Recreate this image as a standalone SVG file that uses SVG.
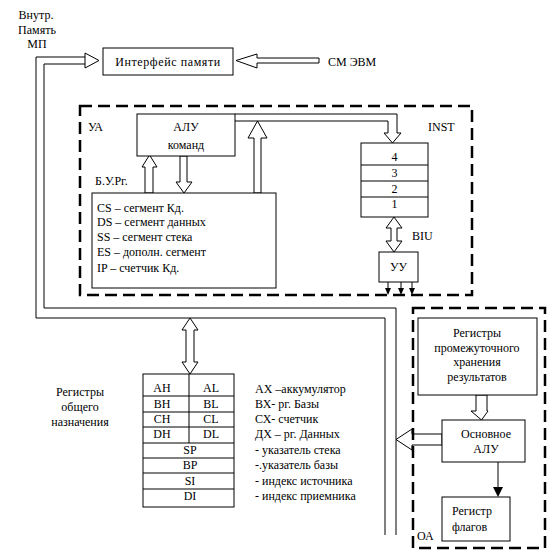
<svg xmlns="http://www.w3.org/2000/svg" width="547" height="553" viewBox="0 0 547 553">
<style>
text{font-family:"Liberation Serif","Times New Roman",serif;font-size:12px;fill:#000}
.m{text-anchor:middle}
.box{fill:#fff;stroke:#000;stroke-width:1}
.ln{fill:none;stroke:#000;stroke-width:1}
.arr{fill:#fff;stroke:#000;stroke-width:1}
.dash{fill:none;stroke:#000;stroke-width:2.5;stroke-dasharray:12 6}
</style>
<rect width="547" height="553" fill="#fff"/>

<g id="connectors">
  <!-- system bus -->
  <polyline class="ln" points="85,57 36,57 36,318 385,318 385,535"/>
  <polyline class="ln" points="85,64 44,64 44,308 396,308 396,535"/>
  <polygon class="arr" points="85,57 85,53 99,60.5 85,68 85,64"/>
  <!-- CM EVM arrow -->
  <polygon class="arr" points="319,58 257,58 257,54 236,60.5 257,68 257,63 319,63"/>
  <!-- ALU -> INST channel -->
  <path class="arr" d="M235,114 H397 V133 H401 L392.5,143 L384,133 H388 V121 H235"/>
  <!-- BURg up to channel -->
  <polygon class="arr" points="254,193 254,138 248,138 257.5,121 267,138 261,138 261,193"/>
  <!-- BURg up to ALU -->
  <polygon class="arr" points="145,193 145,167 142,167 149.5,155 157,167 153,167 153,193"/>
  <!-- ALU down to BURg -->
  <polygon class="arr" points="180,156 180,182 176,182 184,193 192,182 187,182 187,156"/>
  <!-- BIU double arrow -->
  <polygon class="arr" points="394,217 386,228 391,228 391,241 386,241 394,252 402,241 397,241 397,228 402,228"/>
  <!-- UU outputs -->
  <g stroke="#000" stroke-width="1">
    <line x1="388" y1="282" x2="388" y2="290"/>
    <line x1="401" y1="282" x2="401" y2="290"/>
    <line x1="412" y1="282" x2="412" y2="290"/>
  </g>
  <polygon points="385,288 391,288 388,295"/>
  <polygon points="398,288 404,288 401,295"/>
  <polygon points="409,288 415,288 412,295"/>
  <!-- bus to general registers -->
  <polygon class="arr" points="190,318 182,330 186,330 186,362 182,362 190,374 198,362 194,362 194,330 198,330"/>
  <!-- intermediate regs to main ALU -->
  <polygon class="arr" points="476,395 476,411 471,411 481.5,420 488,411 487,411 487,395"/>
  <!-- main ALU to bus -->
  <polygon class="arr" points="442,434 412,434 412,429 396,439.5 412,450 412,445 442,445"/>
  <!-- main ALU to flags -->
  <line x1="498" y1="462" x2="498" y2="489" stroke="#000" stroke-width="1"/>
  <polygon points="493,487 503,487 498,497"/>
</g>

<g id="ua-frame">
  <rect class="dash" x="80" y="106" width="392" height="189"/>
  <text x="88" y="131">УА</text>
  <text x="428" y="131">INST</text>
  <text x="95" y="185">Б.У.Рг.</text>
  <text x="412" y="240">BIU</text>
</g>

<g id="oa-frame">
  <rect class="dash" x="413" y="308" width="132" height="240"/>
  <text x="417" y="540">ОА</text>
</g>

<g id="labels-top">
  <text class="m" x="36" y="19">Внутр.</text>
  <text class="m" x="37" y="34">Память</text>
  <text class="m" x="37" y="48">МП</text>
  <text x="328" y="66">СМ ЭВМ</text>
</g>

<g id="mem-interface">
  <rect class="box" x="103" y="48" width="130" height="27"/>
  <text class="m" x="168" y="66" style="letter-spacing:0.6px">Интерфейс памяти</text>
</g>

<g id="alu-cmd">
  <rect class="box" x="137" y="114" width="98" height="42"/>
  <text class="m" x="186" y="131">АЛУ</text>
  <text class="m" x="186" y="149">команд</text>
</g>

<g id="seg-regs">
  <rect class="box" x="92" y="193" width="184" height="95"/>
  <text x="97" y="212">CS – сегмент Кд.</text>
  <text x="97" y="226">DS – сегмент данных</text>
  <text x="97" y="241">SS – сегмент стека</text>
  <text x="97" y="256">ES – дополн. сегмент</text>
  <text x="97" y="272">IP – счетчик Кд.</text>
</g>

<g id="inst-queue">
  <rect class="box" x="361" y="143" width="67" height="74"/>
  <line class="ln" x1="361" y1="165" x2="428" y2="165"/>
  <line class="ln" x1="361" y1="181" x2="428" y2="181"/>
  <line class="ln" x1="361" y1="197" x2="428" y2="197"/>
  <text class="m" x="394.5" y="161">4</text>
  <text class="m" x="394.5" y="177">3</text>
  <text class="m" x="394.5" y="193">2</text>
  <text class="m" x="394.5" y="208">1</text>
</g>

<g id="uu">
  <rect class="box" x="379" y="252" width="39" height="30"/>
  <text class="m" x="398.5" y="271">УУ</text>
</g>

<g id="gp-regs">
  <rect class="box" x="143" y="374" width="91" height="133"/>
  <g class="ln">
    <line x1="143" y1="396" x2="234" y2="396"/>
    <line x1="143" y1="412" x2="234" y2="412"/>
    <line x1="143" y1="427" x2="234" y2="427"/>
    <line x1="143" y1="443" x2="234" y2="443"/>
    <line x1="143" y1="458" x2="234" y2="458"/>
    <line x1="143" y1="473" x2="234" y2="473"/>
    <line x1="143" y1="489" x2="234" y2="489"/>
    <line x1="189" y1="374" x2="189" y2="443"/>
  </g>
  <text class="m" x="162" y="392">AH</text>
  <text class="m" x="211" y="392">AL</text>
  <text class="m" x="162" y="408">BH</text>
  <text class="m" x="211" y="408">BL</text>
  <text class="m" x="162" y="423">CH</text>
  <text class="m" x="211" y="423">CL</text>
  <text class="m" x="162" y="438">DH</text>
  <text class="m" x="211" y="438">DL</text>
  <text class="m" x="190" y="454">SP</text>
  <text class="m" x="190" y="469">BP</text>
  <text class="m" x="190" y="485">SI</text>
  <text class="m" x="190" y="500">DI</text>
</g>

<g id="gp-label">
  <text class="m" x="80" y="396">Регистры</text>
  <text class="m" x="80" y="411">общего</text>
  <text class="m" x="80" y="426">назначения</text>
</g>

<g id="gp-legend">
  <text x="255" y="393">АХ –аккумулятор</text>
  <text x="255" y="408">ВХ- рг. Базы</text>
  <text x="255" y="423">СХ- счетчик</text>
  <text x="255" y="438">ДХ – рг. Данных</text>
  <text x="255" y="454">- указатель стека</text>
  <text x="255" y="469">-.указатель базы</text>
  <text x="255" y="485">- индекс источника</text>
  <text x="255" y="500">- индекс приемника</text>
</g>

<g id="temp-regs">
  <rect class="box" x="418" y="318" width="119" height="77"/>
  <text class="m" x="477" y="337">Регистры</text>
  <text class="m" x="477" y="352">промежуточного</text>
  <text class="m" x="477" y="366">хранения</text>
  <text class="m" x="477" y="381">результатов</text>
</g>

<g id="main-alu">
  <rect class="box" x="442" y="420" width="83" height="42"/>
  <text class="m" x="486" y="438">Основное</text>
  <text class="m" x="486" y="453">АЛУ</text>
</g>

<g id="flags">
  <rect class="box" x="442" y="497" width="68" height="44"/>
  <text x="452" y="515">Регистр</text>
  <text x="452" y="531">флагов</text>
</g>
</svg>
